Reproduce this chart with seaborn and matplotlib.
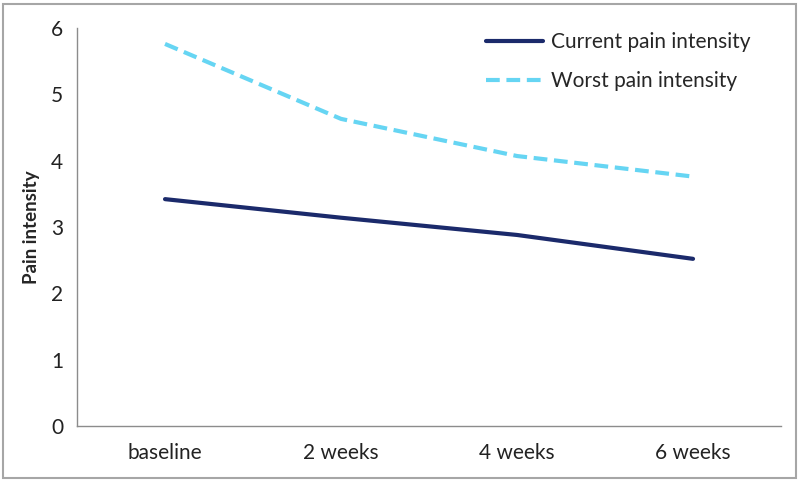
import numpy as np
import pandas as pd
import matplotlib
matplotlib.use('Agg')
import matplotlib.pyplot as plt
from matplotlib.patches import Rectangle
import seaborn as sns

timepoints = ['baseline', '2 weeks', '4 weeks', '6 weeks']
current_pain = [3.42, 3.14, 2.88, 2.52]
worst_pain = [5.76, 4.63, 4.07, 3.76]
series_names = ['Current pain intensity', 'Worst pain intensity']
series_colors = ['#1b2a6b', '#66d5f3']

sns.set_style('white')
plt.rcParams['font.family'] = ['Lato', 'DejaVu Sans']

df = pd.DataFrame({
    'time': list(range(len(timepoints))) * 2,
    'value': current_pain + worst_pain,
    'series': [series_names[0]] * 4 + [series_names[1]] * 4,
})

fig = plt.figure(figsize=(7.99, 4.82), dpi=100)
ax = fig.add_axes([0.0964, 0.1162, 0.8811, 0.8257])

sns.lineplot(data=df, x='time', y='value', hue='series', style='series',
             palette=dict(zip(series_names, series_colors)),
             dashes={series_names[0]: '', series_names[1]: (3.3, 1.6)},
             linewidth=3.0, ax=ax)

ax.set_xlim(-0.5, 3.5)
ax.set_ylim(0, 6)
ax.set_yticks(range(7))
ax.set_xticks(range(4))
ax.set_xticklabels(timepoints)
ax.set_xticks(np.arange(-0.5, 4, 1), minor=True)
ax.tick_params(axis='x', which='major', length=0, pad=12, labelsize=15, colors='#222222')
ax.tick_params(axis='x', which='minor', length=6, width=1, color='#8c8c8c', direction='out')
ax.tick_params(axis='y', length=6, width=1, color='#8c8c8c', direction='out', labelsize=15,
               labelcolor='#222222', pad=4)
ax.set_xlabel('')
ax.set_ylabel('Pain intensity', fontsize=13.5, fontweight='bold', labelpad=8)
for side in ['top', 'right']:
    ax.spines[side].set_visible(False)
for side in ['left', 'bottom']:
    ax.spines[side].set_color('#8c8c8c')
    ax.spines[side].set_linewidth(1)

leg = ax.legend(loc='upper left', bbox_to_anchor=(0.555, 1.037), frameon=False, fontsize=15,
                handlelength=2.7, handletextpad=0.38, labelspacing=0.92)
for line in leg.get_lines():
    line.set_linewidth(3.0)

fig.add_artist(Rectangle((0.004, 0.008), 0.992, 0.984, transform=fig.transFigure,
                         fill=False, edgecolor='#a6a6a6', linewidth=1.5))

fig.savefig('out.png', dpi=100)
